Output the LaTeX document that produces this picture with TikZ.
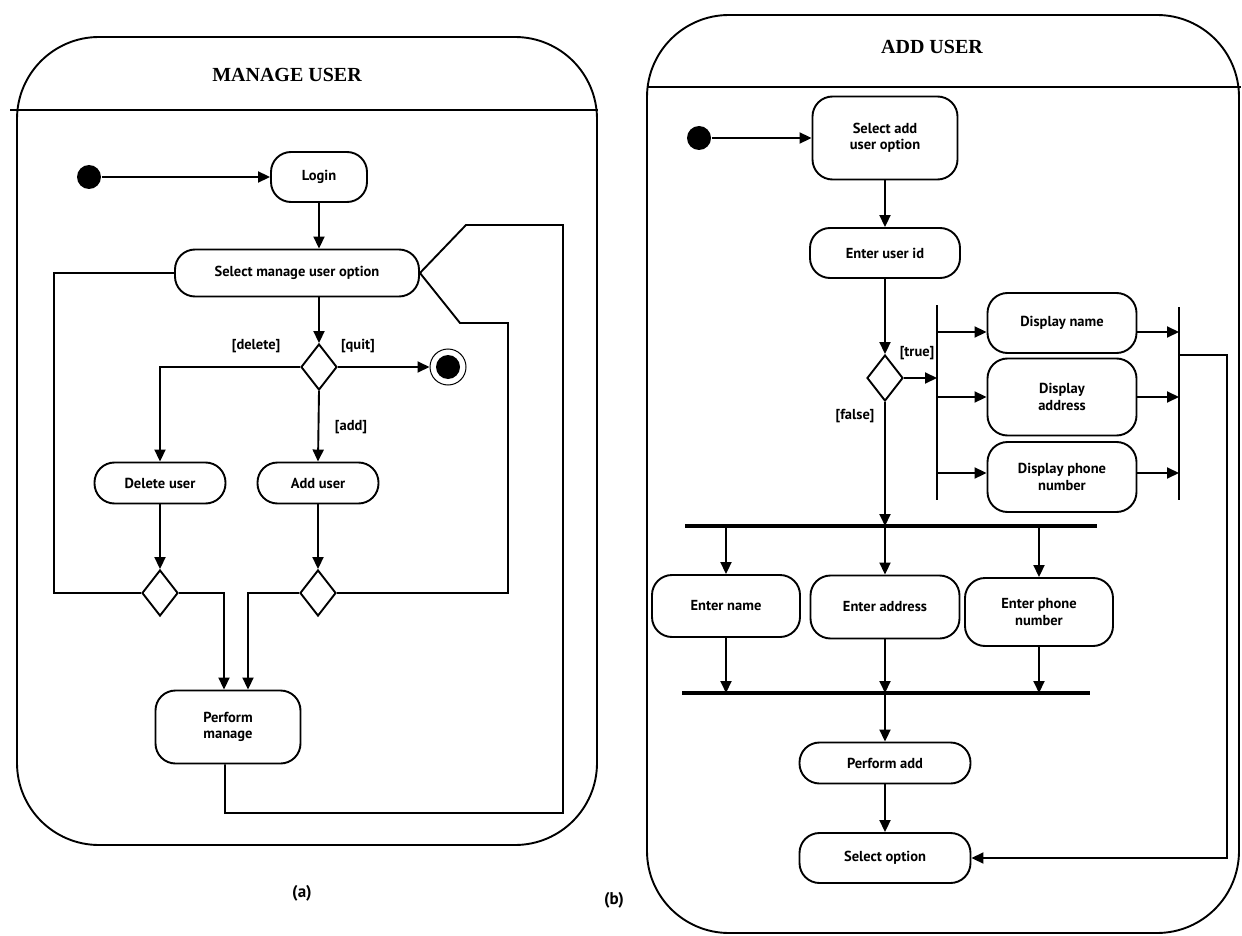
\documentclass[tikz,border=0pt]{standalone}
\usepackage{fontspec}
\newfontfamily\boxfont{PT Sans}
\newfontfamily\headfont{Liberation Serif}
\usetikzlibrary{arrows.meta,shapes.geometric}

\begin{document}
\begin{tikzpicture}[x=1pt,y=-1pt,line width=1.9pt,
  txt/.style={font=\boxfont\bfseries\fontsize{14.5}{16.5}\selectfont},
  act/.style={draw,txt,rounded corners=20pt,align=center,inner sep=2pt},
  choice/.style={draw,diamond,minimum width=36pt,minimum height=46pt,inner sep=0pt},
  startdot/.style={circle,fill,minimum size=24pt,inner sep=0pt},
  enddot/.style={circle,draw,line width=1pt,minimum size=36pt,inner sep=0pt},
  arr/.style={-{Triangle[length=12pt,width=11pt]}},
  syncbar/.style={line width=2.6pt},
  joinbar/.style={line width=3.2pt},
  frame/.style={draw,rounded corners=82pt},
  heading/.style={font=\headfont\bfseries\fontsize{20}{22}\selectfont},
  guard/.style={txt,inner sep=0pt},
  caption/.style={font=\boxfont\bfseries\fontsize{17}{19}\selectfont}]
\useasboundingbox (0,0) rectangle (1242,936);

% ---------------- (a) MANAGE USER ----------------
\draw[frame] (17,37) rectangle (597,845);
\draw (10,110) -- (598,110);
\node[heading] (ttlA) at (287,75) {MANAGE USER};

\node[startdot] (i1) at (89,177) {};
\node[act,minimum width=96pt,minimum height=50pt] (login) at (319,177) {Login};
\node[act,minimum width=244pt,minimum height=47pt] (sel) at (297,273) {Select manage user option};
\node[choice] (dec) at (319,367) {};
\node[enddot] (fin) at (448,367) {};
\fill (fin.center) circle (12pt);
\node[act,minimum width=131pt,minimum height=41pt] (del) at (160,483) {Delete user};
\node[act,minimum width=121pt,minimum height=41pt] (add) at (318,483) {Add user};
\node[choice] (mL) at (160,593) {};
\node[choice] (mR) at (318,593) {};
\node[act,minimum width=145pt,minimum height=73pt] (pm) at (228,727) {Perform\\manage};

\node[guard] (gdel) at (256,346) {[delete]};
\node[guard] (gquit) at (358,346) {[quit]};
\node[guard] (gadd) at (351,427) {[add]};

\coordinate (lx) at (54,0);
\coordinate (r2) at (508,323);
\coordinate (r2d) at (460,323);
\coordinate (lb) at (563,813);
\coordinate (r1) at (563,225);
\coordinate (r1d) at (466,225);

\draw[arr] (i1) -- (login);
\draw[arr] (login.south) -- (login.south |- sel.north);
\draw[arr] (dec.north |- sel.south) -- (dec.north);
\draw[arr] (dec.west) -| (del.north);
\draw[arr] (dec.east) -- (fin);
\draw[arr] (dec.south) -- (add.north);
\draw[arr] (del.south) -- (mL.north);
\draw[arr] (add.south) -- (mR.north);
\draw[arr] (mL.east) -| ([xshift=-4pt]pm.north);
\draw[arr] (mR.west) -| ([xshift=20pt]pm.north);
\draw (mL.west) -- (mL.west -| lx) |- (sel.west);
\draw (mR.east) -- (mR.east -| r2) -- (r2) -- (r2d) -- (sel.east);
\draw ([xshift=-3pt]pm.south) |- (lb) -- (r1) -- (r1d) -- (sel.east);

\node[caption] (capA) at (302,893) {(a)};
\node[caption] (capB) at (614,900) {(b)};

% ---------------- (b) ADD USER ----------------
\draw[frame] (647,15) rectangle (1239,933);
\draw (647,87) -- (1241,87);
\node[heading] (ttlB) at (932,47) {ADD USER};

\node[startdot] (i2) at (699,138) {};
\node[act,minimum width=145pt,minimum height=83pt] (sa) at (885,138) {Select add\\user option};
\node[act,minimum width=150pt,minimum height=50pt] (uid) at (885,253) {Enter user id};
\node[choice] (d2) at (885,378) {};
\node[guard] (gtrue) at (917,353) {[true]};
\node[guard] (gfalse) at (855,416) {[false]};

\coordinate (fkT) at (937,305);
\coordinate (fkB) at (937,500);
\coordinate (jT) at (1179,307);
\coordinate (jB) at (1179,500);
\coordinate (f1) at (937,332);
\coordinate (f2) at (937,397);
\coordinate (f3) at (937,473);
\coordinate (jo) at (1179,355);
\coordinate (rr) at (1227,0);

\node[act,minimum width=149pt,minimum height=60pt] (dn) at (1062,323) {Display name};
\node[act,minimum width=149pt,minimum height=77pt] (da) at (1062,397) {Display\\address};
\node[act,minimum width=149pt,minimum height=70pt] (dp) at (1062,477) {Display phone\\number};

\coordinate (b1L) at (685,526);
\coordinate (b1R) at (1097,526);
\coordinate (b2L) at (682,693);
\coordinate (b2R) at (1090,693);

\node[act,minimum width=148pt,minimum height=62pt] (en) at (726,606) {Enter name};
\node[act,minimum width=149pt,minimum height=63pt] (ea) at (885,607) {Enter address};
\node[act,minimum width=148pt,minimum height=68pt] (ep) at (1039,612) {Enter phone\\number};
\node[act,minimum width=171pt,minimum height=41pt] (pa) at (885,763) {Perform add};
\node[act,minimum width=171pt,minimum height=50pt] (so) at (885,858) {Select option};

\draw[arr] (i2) -- (sa);
\draw[arr] (sa) -- (uid);
\draw[arr] (uid) -- (d2);
\draw[arr] (d2.east) -- (d2.east -| fkT);
\draw[syncbar] (fkT) -- (fkB);
\draw[arr] (f1) -- (f1 -| dn.west);
\draw[arr] (f2) -- (f2 -| da.west);
\draw[arr] (f3) -- (f3 -| dp.west);
\draw[arr] (f1 -| dn.east) -- (f1 -| jT);
\draw[arr] (f2 -| da.east) -- (f2 -| jT);
\draw[arr] (f3 -| dp.east) -- (f3 -| jT);
\draw[syncbar] (jT) -- (jB);
\draw[arr] (jo) -- (jo -| rr) |- (so.east);

\draw[arr] (d2.south) -- (d2.south |- b1L);
\draw[joinbar] (b1L) -- (b1R);
\draw[arr] (en.north |- b1L) -- (en.north);
\draw[arr] (ea.north |- b1L) -- (ea.north);
\draw[arr] (ep.north |- b1L) -- (ep.north);
\draw[arr] (en.south) -- (en.south |- b2L);
\draw[arr] (ea.south) -- (ea.south |- b2L);
\draw[arr] (ep.south) -- (ep.south |- b2L);
\draw[joinbar] (b2L) -- (b2R);
\draw[arr] (pa.north |- b2L) -- (pa.north);
\draw[arr] (pa) -- (so);
\end{tikzpicture}
\end{document}
